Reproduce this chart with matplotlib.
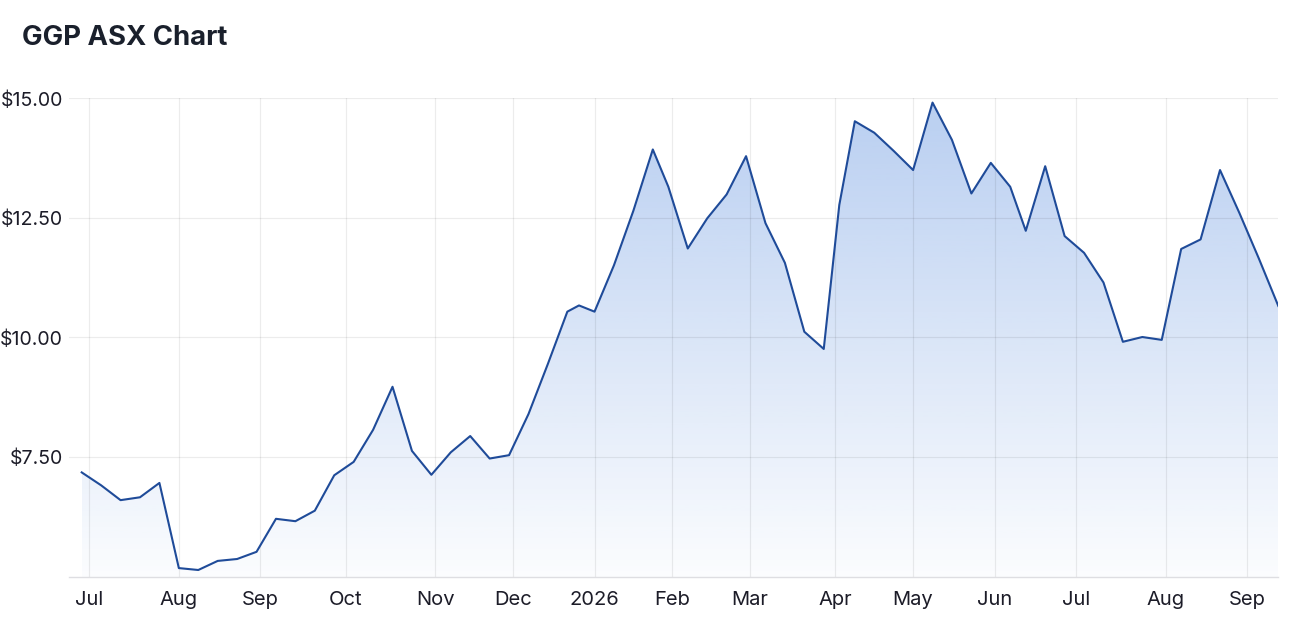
import numpy as np
import pandas as pd
import matplotlib
matplotlib.use('Agg')
import matplotlib.pyplot as plt

plt.rcParams['font.family'] = ['Inter', 'DejaVu Sans']

# Weekly closes (last trading day of each week), Jun 2025 - Sep 2026
week_ends = pd.date_range('2025-06-27', '2026-09-11', freq='W-FRI')
close = [7.18, 6.91, 6.60, 6.66, 6.96, 5.18, 5.14, 5.33, 5.37, 5.52,
         6.21, 6.16, 6.38, 7.12, 7.40, 8.07, 8.97, 7.63, 7.13, 7.60,
         7.94, 7.47, 7.54, 8.40, 9.45, 10.54, 10.67, 10.54, 11.51, 12.65,
         13.93, 13.15, 11.86, 12.49, 12.99, 13.79, 12.39, 11.56, 10.12, 9.76,
         12.77, 14.52, 14.28, 13.90, 13.50, 14.91, 14.13, 13.01, 13.65, 13.15,
         12.23, 13.58, 12.12, 11.77, 11.15, 9.91, 10.01, 9.95, 11.85, 12.05,
         13.50, 12.60, 11.65, 10.66]

# ASX non-trading days in the period (axis runs on trading days)
holidays = ['2025-12-25', '2025-12-26', '2026-01-01', '2026-01-26',
            '2026-04-03', '2026-04-06', '2026-06-08']

month_starts = pd.date_range('2025-07-01', '2026-09-01', freq='MS')
month_labels = ['Jul', 'Aug', 'Sep', 'Oct', 'Nov', 'Dec', '2026', 'Feb',
                'Mar', 'Apr', 'May', 'Jun', 'Jul', 'Aug', 'Sep']

y_ticks = [7.5, 10, 12.5, 15]

# trading-day positions
hol = np.array(holidays, dtype='datetime64[D]')
days = np.array(week_ends.values, dtype='datetime64[D]')
days = np.busday_offset(days, 0, roll='backward', holidays=hol)
start = days[0]
x = np.busday_count(start, days, holidays=hol)
tick_x = np.busday_count(start, np.array(month_starts.values, dtype='datetime64[D]'), holidays=hol)

fig = plt.figure(figsize=(12.95, 6.24), dpi=100)
ax = fig.add_axes([0.0535, 0.0758, 0.9336, 0.7667])

ymin, ymax = 5, 15
xmin, xmax = x[0] - 3.2, x[-1]

# gradient fill under the line
poly = ax.fill_between(x, close, ymin, color='none', linewidth=0)
grad = np.zeros((256, 1, 4))
grad[:, :, 0] = 59 / 255
grad[:, :, 1] = 120 / 255
grad[:, :, 2] = 216 / 255
grad[:, 0, 3] = np.linspace(0.02, 0.36, 256)
im = ax.imshow(grad, extent=[x[0], x[-1], ymin, ymax], aspect='auto',
               origin='lower', zorder=1, interpolation='bilinear')
im.set_clip_path(poly.get_paths()[0], transform=ax.transData)

ax.plot(x, close, color='#1f4b99', linewidth=1.5, zorder=3)

ax.set_xlim(xmin, xmax)
ax.set_ylim(ymin, ymax)
ax.set_xticks(tick_x)
ax.set_xticklabels(month_labels, fontsize=14.5)
ax.set_yticks(y_ticks)
ax.set_yticklabels([f'${v:.2f}' for v in y_ticks], fontsize=14.1)

ax.set_axisbelow('line')
ax.grid(True, color='black', alpha=0.075, linewidth=0.9)
ax.tick_params(axis='both', length=0, colors='#1c1c28')
ax.tick_params(axis='y', pad=4.5)
ax.tick_params(axis='x', pad=10)
for s in ['top', 'right', 'left']:
    ax.spines[s].set_visible(False)
ax.spines['bottom'].set_color('#dedee2')
ax.spines['bottom'].set_linewidth(1)

fig.text(22 / 1295, 1 - 45 / 624, 'GGP ASX Chart', fontsize=19.8,
         fontweight='bold', color='#1a202c', va='baseline', ha='left')

fig.savefig('out.png', dpi=100)
